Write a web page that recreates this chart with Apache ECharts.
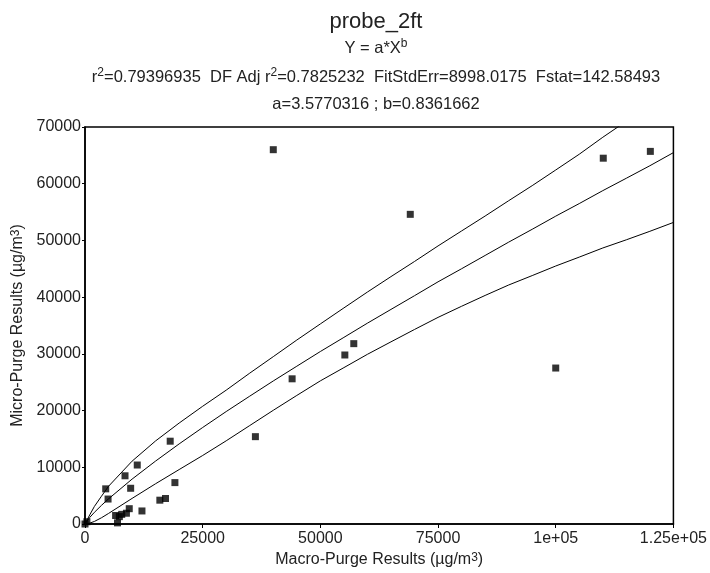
<!DOCTYPE html>
<html>
<head>
<meta charset="utf-8">
<title>probe_2ft</title>
<script src="https://cdn.jsdelivr.net/npm/echarts@6/dist/echarts.min.js"></script>
<style>
html, body { margin: 0; padding: 0; background: #fff; }
#chart { width: 710px; height: 573px; }
</style>
</head>
<body>
<div id="chart"></div>
<script>
// tick labels (x axis uses R style exponent labels)
var xTicks = [0, 25000, 50000, 75000, 100000, 125000];
var xTickLabels = ['0', '25000', '50000', '75000', '1e+05', '1.25e+05'];

// measured points: macro purge vs micro purge
var macroX = [0, 400, 4400, 4900, 6500, 6900, 7300, 7800, 8500, 8800, 9400, 9700, 11100, 12100,
              15900, 17100, 18100, 19100, 36200, 40000, 44000, 55200, 57100, 69100, 100000, 110100, 120100];
var microY = [0, 400, 6200, 4400, 1500, 200, 1300, 1700, 8500, 1900, 2700, 6300, 10400, 2300,
              4200, 4500, 14600, 7300, 15400, 66000, 25600, 29800, 31800, 54600, 27500, 64500, 65700];

// curves (fit Y = a*X^b and its two bounds)
var curveX = [0, 1000, 2000, 3500, 5000, 10000, 15000, 20000, 25000, 30000, 35000, 40000, 45000, 50000, 55000, 60000,
              65000, 70000, 75000, 80000, 85000, 90000, 95000, 100000, 105000, 110000, 115000, 120000, 125000];
var fitMid = [0, 1153, 2060, 3289, 4431, 7913, 11100, 14123, 17016, 19830, 22543, 25225, 27822, 30415, 32905, 35413,
              37835, 40256, 42703, 45009, 47350, 49696, 51963, 54280, 56500, 58780, 60966, 63170, 65480];
var upperY = [0, 1600, 3100, 4900, 6650, 11080, 14650, 17800, 20760, 23600, 26600, 29510, 32440, 35280, 38100, 40900,
              43620, 46290, 49030, 51670, 54300, 57000, 59660, 62420, 65200, 68190, 71020, null, null];
var lowerY = [0, 150, 450, 1100, 1860, 4510, 7100, 9600, 12080, 14670, 17360, 20050, 22670, 25240, 27570, 29920,
              32120, 34300, 36430, 38390, 40300, 42140, 43800, 45490, 47060, 48670, 50110, 51610, 53170];

function pairs(xs, ys) {
    var out = [];
    for (var i = 0; i < xs.length; i++) {
        if (ys[i] != null) out.push([xs[i], ys[i]]);
    }
    return out;
}

var FONT = "'Liberation Sans', Arial, sans-serif";
var supRich = {
    n: { fontSize: 16.5, lineHeight: 20, fontFamily: FONT, color: '#222' },
    sup: { fontSize: 12, lineHeight: 12, verticalAlign: 'top', fontFamily: FONT, color: '#222' }
};

function headText(txt, y, size) {
    return {
        type: 'text',
        x: 376,
        y: y,
        style: {
            text: txt,
            textAlign: 'center',
            textVerticalAlign: 'middle',
            fontSize: size,
            fontFamily: FONT,
            fill: '#222',
            rich: supRich
        }
    };
}

var myChart = echarts.init(document.getElementById('chart'));
var curveLine = function (name, data) {
    return {
        name: name,
        type: 'line',
        data: data,
        showSymbol: false,
        clip: true,
        lineStyle: { color: '#000', width: 1 },
        silent: true,
        z: 2
    };
};

var option = {
    animation: false,
    backgroundColor: '#fff',
    graphic: [
        headText('probe_2ft', 22, 22),
        headText('{n|Y = a*X}{sup|b}', 48, 16.5),
        headText('{n|r}{sup|2}{n|=0.79396935  DF Adj r}{sup|2}{n|=0.7825232  FitStdErr=8998.0175  Fstat=142.58493}', 77, 16.5),
        headText('a=3.5770316 ; b=0.8361662', 104, 16.5)
    ],
    grid: {
        left: 85,
        right: 34,
        top: 127,
        bottom: 49,
        show: true,
        borderColor: '#000',
        borderWidth: 1.5,
        backgroundColor: '#fff'
    },
    xAxis: {
        type: 'value',
        min: 0,
        max: 125000,
        interval: 25000,
        name: 'Macro-Purge Results (\u00b5g/m{sup|3})',
        nameLocation: 'middle',
        nameGap: 26,
        nameTextStyle: { fontSize: 16, fontFamily: FONT, color: '#222', rich: supRich },
        axisLine: { show: true, lineStyle: { color: '#000', width: 1.5 } },
        axisTick: { show: true, length: 4, lineStyle: { color: '#000' } },
        splitLine: { show: false },
        axisLabel: {
            fontSize: 16,
            fontFamily: FONT,
            color: '#222',
            margin: 7,
            formatter: function (v) {
                var i = xTicks.indexOf(v);
                return i >= 0 ? xTickLabels[i] : '';
            }
        }
    },
    yAxis: {
        type: 'value',
        min: 0,
        max: 70000,
        interval: 10000,
        name: 'Micro-Purge Results (\u00b5g/m{sup|3})',
        nameLocation: 'middle',
        nameGap: 50,
        nameTextStyle: { fontSize: 16, fontFamily: FONT, color: '#222', rich: supRich },
        axisLine: { show: true, lineStyle: { color: '#000', width: 1.5 } },
        axisTick: { show: true, length: 3, lineStyle: { color: '#000' } },
        splitLine: { show: false },
        axisLabel: {
            fontSize: 16,
            fontFamily: FONT,
            color: '#222',
            margin: 4,
            formatter: function (v) { return String(v); }
        }
    },
    series: [
        curveLine('upper', pairs(curveX, upperY)),
        curveLine('fit', pairs(curveX, fitMid)),
        curveLine('lower', pairs(curveX, lowerY)),
        {
            name: 'data',
            type: 'scatter',
            symbol: 'rect',
            symbolSize: 7,
            itemStyle: { color: '#000' },
            data: pairs(macroX, microY),
            z: 3
        }
    ]
};

myChart.setOption(option);
</script>
</body>
</html>
